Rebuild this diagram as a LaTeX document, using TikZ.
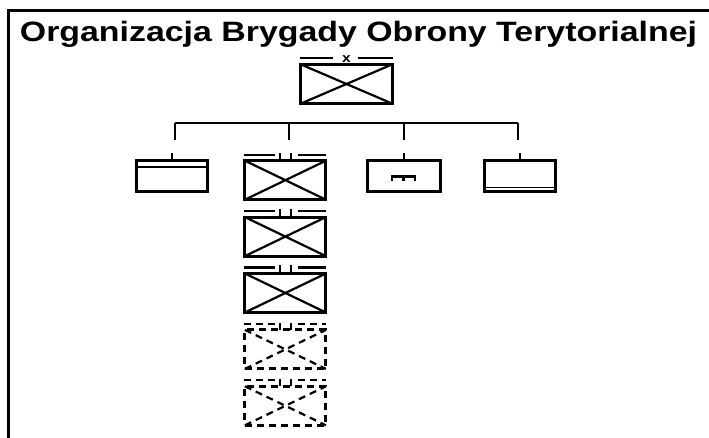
\documentclass[tikz,border=0pt]{standalone}
\usepackage{graphicx}
\usepackage{fontspec}
\setmainfont{Liberation Sans}
\usetikzlibrary{positioning}
\tikzset{
  unit/.style={draw, line width=3pt, inner sep=0pt, outer sep=0pt,
    minimum width=71pt, minimum height=31pt},
  bat/.style={unit, minimum width=81pt, minimum height=39pt},
  thin/.style={line width=2.2pt},
  res/.style={dash pattern=on 7pt off 5pt}
}
% cross in a unit box
\newcommand{\cross}[2][]{\draw[thin,#1] (#2.north west) -- (#2.south east)
  (#2.south west) -- (#2.north east);}
% battalion marks (II) above a box
\newcommand{\batmarks}[2][]{\draw[thin,#1]
  ([shift={(-41pt,6pt)}]#2.north) -- ++(31pt,0)
  ([shift={(12.5pt,6pt)}]#2.north) -- ++(28.5pt,0)
  ([xshift=-5.8pt]#2.north) -- ++(0,8pt)
  ([xshift=5.8pt]#2.north) -- ++(0,8pt);}
\begin{document}
\begin{tikzpicture}[x=1pt,y=1pt]
  \useasboundingbox (0,0) rectangle (709,438);
  \draw[line width=3pt] (8.5,0) -- (8.5,427) -- (709,427);
  \node (title) [anchor=base, inner sep=0pt] at (358.5,396)
    {\bfseries\fontsize{28}{30}\selectfont\scalebox{1.21}[1]{Organizacja Brygady Obrony Terytorialnej}};

  % brigade HQ
  \node (HQ) [unit, minimum width=92pt, minimum height=39.5pt] at (346.5,354) {};
  \cross{HQ}
  \node (X) [anchor=base, inner sep=0pt] at ([yshift=2pt]HQ.north)
    {\bfseries\fontsize{13}{13}\selectfont\scalebox{1.2}[1]{x}};
  \draw[thin] ([shift={(-46.5pt,6pt)}]HQ.north) -- ++(33pt,0)
              ([shift={(11.5pt,6pt)}]HQ.north) -- ++(35pt,0);

  % first row
  \node (dow) [unit, anchor=north] at (172,277.3) {};
  \node (bat1) [bat, anchor=north] at (285.4,277.3) {};
  \node (sap) [unit, minimum width=73pt, anchor=north] at (403.7,277.3) {};
  \node (log) [unit, anchor=north] at (519.7,277.3) {};

  % battalions
  \node (bat2) [bat, below=17.4pt of bat1] {};
  \node (bat3) [bat, below=17.4pt of bat2] {};
  \node (bat4) [bat, res, below=17.4pt of bat3] {};
  \node (bat5) [bat, res, below=17.4pt of bat4] {};
  \foreach \b in {bat1,bat2,bat3} {\cross{\b} \batmarks{\b}}
  \foreach \b in {bat4,bat5} {\cross[res]{\b} \batmarks[res]{\b}}

  % inner marks
  \draw[thin] ([yshift=-6pt]dow.north west) -- ([yshift=-6pt]dow.north east);
  \draw[line width=1.6pt] ([yshift=4pt]log.south west) -- ([yshift=4pt]log.south east);
  \draw[line width=2.8pt] ([shift={(-11.7pt,-5pt)}]sap.center) -- ++(0,5pt) -- ++(23pt,0) -- ++(0,-5pt)
              ([shift={(-0.2pt,-5pt)}]sap.center) -- ++(0,5pt);
  \foreach \n in {dow,sap,log} \draw[thin] (\n.north) -- ++(0,8pt);

  % tree
  \coordinate (bar) at (0,314.7);
  \draw[thin] ([xshift=3pt]dow |- bar) -- ([xshift=-1.5pt]log |- bar);
  \foreach \n/\s in {dow/3,bat1/3.5,sap/0,log/-1.5}
    \draw[thin] ([xshift=\s pt]\n |- bar) -- ++(0,-17pt);
\end{tikzpicture}
\end{document}
